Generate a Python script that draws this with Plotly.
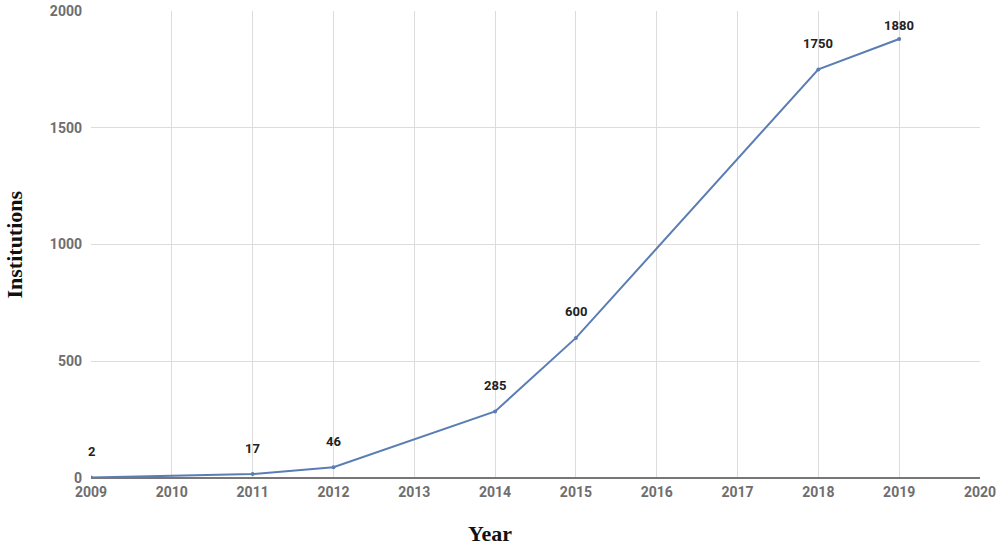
import plotly.graph_objects as go

years = [2009, 2011, 2012, 2014, 2015, 2018, 2019]
institutions = [2, 17, 46, 285, 600, 1750, 1880]
labels = ["2", "17", "46", "285", "600", "1750", "1880"]

x_ticks = list(range(2009, 2021))
y_ticks = [0, 500, 1000, 1500, 2000]

label_shift = [26, 26, 26, 26, 26, 26, 14]

fig = go.Figure()
fig.add_trace(go.Scatter(
    x=years, y=institutions, mode="lines+markers",
    line=dict(color="#5a7db3", width=2),
    marker=dict(color="#5a7db3", size=4),
    hoverinfo="x+y", showlegend=False,
))

for xv, yv, t, s in zip(years, institutions, labels, label_shift):
    fig.add_annotation(x=xv, y=yv, text=f"<b>{t}</b>", showarrow=False,
                       yshift=s, font=dict(family="Roboto", size=13, color="#222"))

# axis titles
fig.add_annotation(xref="paper", yref="paper", x=0.449, y=-0.118, yanchor="middle",
                   text="<b>Year</b>", showarrow=False,
                   font=dict(family="Liberation Serif", size=22, color="#111"))
fig.add_annotation(xref="paper", yref="paper", x=-0.0855, y=0.5, xanchor="center",
                   text="<b>Institutions</b>", textangle=-90, showarrow=False,
                   font=dict(family="Liberation Serif", size=22, color="#111"))

fig.update_layout(
    width=1000, height=550,
    margin=dict(l=91, r=20, t=11, b=72),
    paper_bgcolor="white", plot_bgcolor="white",
    xaxis=dict(
        range=[2009, 2020], tickvals=x_ticks, ticktext=[f"<b>{v}</b>" for v in x_ticks],
        showgrid=True, gridcolor="#dcdcdc", gridwidth=1,
        zeroline=False, showline=False, ticks="", ticklabelstandoff=4,
        automargin=False,
        tickfont=dict(family="Roboto", size=14, color="#6e6e6e"),
    ),
    yaxis=dict(
        range=[0, 2000], tickvals=y_ticks, ticktext=[f"<b>{v}</b>" for v in y_ticks],
        showgrid=True, gridcolor="#dcdcdc", gridwidth=1,
        zeroline=True, zerolinecolor="#777", zerolinewidth=2,
        showline=False, ticks="", ticklabelstandoff=8,
        automargin=False,
        tickfont=dict(family="Roboto", size=14, color="#6e6e6e"),
    ),
)

fig.write_html("out.html", config={"displayModeBar": False},
               post_script="document.body.style.margin='0';")
